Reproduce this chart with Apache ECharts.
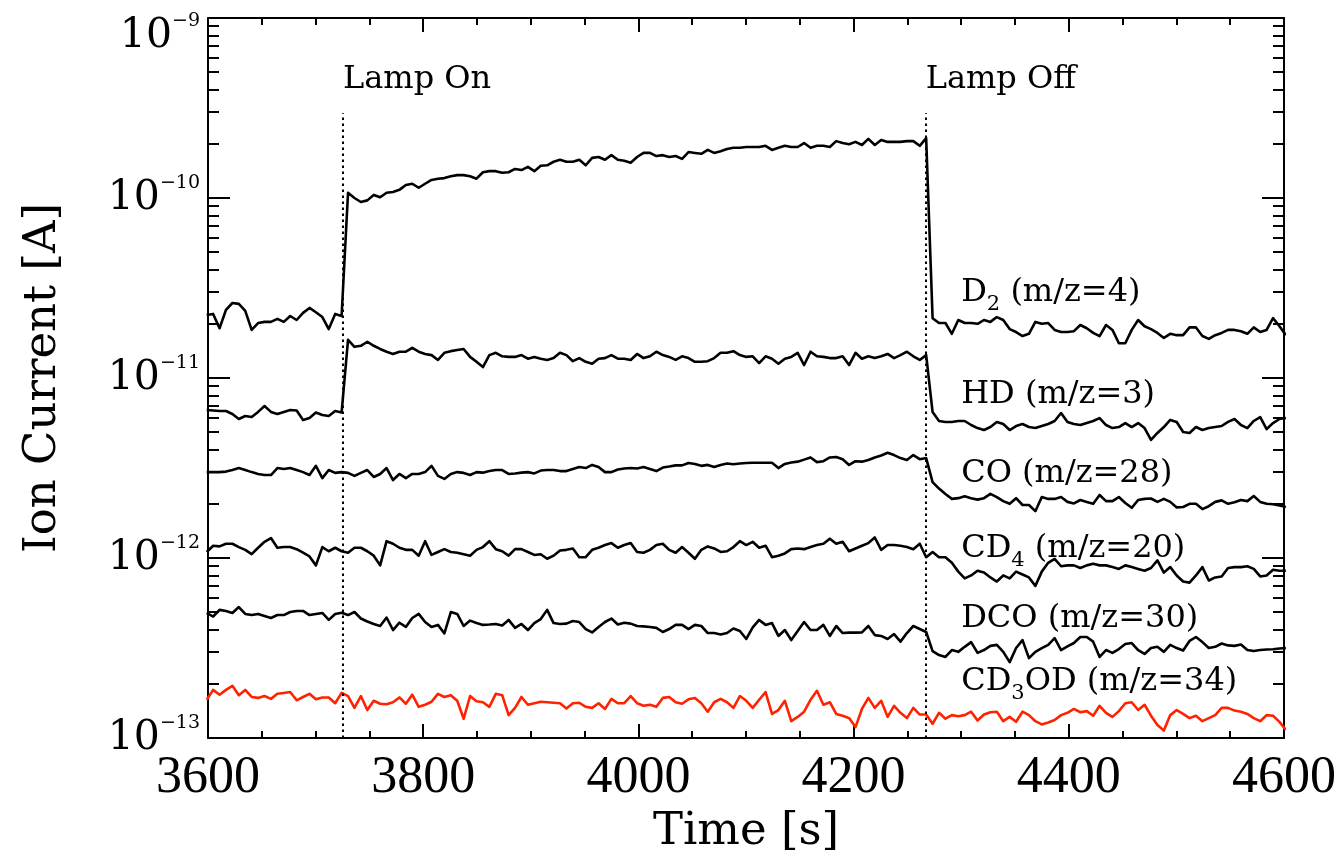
<!DOCTYPE html>
<html>
<head>
<meta charset="utf-8">
<title>Ion Current</title>
<script src="https://cdn.jsdelivr.net/npm/echarts@6/dist/echarts.min.js"></script>
<style>
    html, body {margin: 0; padding: 0; background: #fff;}
    #main {width: 1340px; height: 863px;}
</style>
</head>
<body>
<div id="main"></div>
<script>
    // sampling of the mass spectrometer (s)
    var t0 = 3598.8, dt = 5.97;

    // ion currents in pA (1e-12 A)
    var d2 = [22.4, 22.7, 18.9, 23.9, 26.1, 25.8, 23.6, 18.5, 20.2, 20.5, 20.5, 21.3, 20.5, 22.1, 21.0, 23.0, 24.5, 23.2, 21.8, 18.7, 22.7, 22.1,
        107, 100, 95, 97, 104, 101, 107, 108, 111, 118,
        120, 114, 120, 126, 128, 129, 132, 134, 134, 132,
        128, 139, 141, 141, 138, 139, 145, 143, 149, 141,
        151, 152, 159, 163, 159, 159, 163, 152, 167, 169,
        163, 173, 163, 161, 157, 169, 178, 178, 171, 173,
        169, 171, 165, 180, 178, 176, 185, 178, 182, 187,
        190, 190, 192, 192, 192, 195, 185, 190, 195, 192,
        192, 202, 190, 195, 195, 192, 207, 202, 199, 205,
        197, 213, 197, 210, 205, 205, 205, 207, 207, 195,
        215,
        21.5, 20.2, 20.2, 17.6, 21.0, 20.2, 20.2, 20.0, 21.0, 20.5,
        21.8, 21.0, 18.7, 18.0, 17.1, 17.6, 20.5, 20.0, 20.2, 18.5,
        18.0, 18.0, 18.2, 19.7, 18.9, 17.8, 17.1, 19.7, 18.5, 15.6,
        15.6, 18.5, 21.0, 19.4, 18.7, 17.8, 16.7, 17.6, 17.3, 17.3,
        19.1, 19.1, 17.1, 16.5, 17.3, 17.8, 18.5, 18.5, 18.2, 17.6,
        19.1, 18.0, 18.5, 21.5, 19.4, 17.3];

    var hd = [6.64, 6.60, 6.56, 6.56, 6.31, 5.92, 6.15, 6.07, 6.48, 6.99, 6.48, 6.31, 6.48, 6.64, 6.60, 5.84, 6.00, 6.43, 6.23, 6.15, 6.56, 6.43,
        16.3, 14.9, 15.1, 15.9, 15.1, 14.5, 14.0, 13.6, 14.0, 14.0,
        14.7, 14.0, 13.6, 13.4, 12.6, 13.8, 14.1, 14.3, 14.5, 13.1,
        12.3, 11.5, 13.4, 13.8, 13.2, 13.1, 13.1, 13.4, 12.8, 13.1,
        12.8, 12.6, 12.9, 13.8, 13.4, 12.4, 12.9, 12.3, 12.0, 12.8,
        12.9, 13.4, 12.8, 12.8, 12.6, 13.6, 12.9, 13.2, 14.0, 13.4,
        13.1, 12.6, 13.2, 12.9, 12.3, 12.3, 12.4, 12.9, 13.8, 13.8,
        14.1, 13.4, 13.1, 13.2, 12.1, 13.2, 12.8, 12.0, 12.8, 13.1,
        13.8, 11.8, 14.0, 13.2, 13.1, 12.9, 12.9, 13.2, 11.8, 13.8,
        12.8, 13.2, 12.9, 13.2, 13.6, 12.9, 13.4, 14.0, 13.2, 12.6,
        13.4,
        6.47, 5.77, 5.70, 5.70, 5.77, 5.77, 5.48, 5.27, 5.14, 5.34,
        5.70, 5.55, 5.14, 5.41, 5.55, 5.34, 5.27, 5.41, 5.55, 5.77,
        6.39, 5.70, 5.55, 5.48, 5.62, 5.77, 5.99, 5.48, 5.27, 5.34,
        5.62, 5.34, 5.62, 5.27, 4.53, 4.95, 5.34, 5.85, 5.70, 5.01,
        4.95, 5.34, 5.14, 5.27, 5.34, 5.41, 5.70, 5.92, 5.48, 5.27,
        5.77, 6.07, 5.20, 5.62, 5.92, 5.99];

    var co = [3.00, 3.00, 3.00, 3.02, 3.08, 3.16, 3.08, 3.00, 2.93, 2.89,
        2.89, 3.16, 3.12, 3.16, 3.08, 3.00, 2.89, 3.25, 2.78, 3.08,
        2.97, 3.00, 2.97, 2.86, 2.97, 3.08, 2.82, 2.93, 3.16, 2.71,
        2.93, 2.78, 2.93, 2.93, 3.00, 3.25, 2.86, 2.75, 2.93, 3.00,
        2.97, 2.89, 3.00, 2.98, 3.04, 3.08, 3.08, 2.93, 2.95, 2.98,
        3.00, 2.95, 3.06, 3.08, 3.08, 3.04, 3.04, 3.12, 3.20, 3.16,
        3.29, 3.20, 3.00, 3.00, 3.10, 3.14, 3.16, 3.14, 3.20, 3.12,
        3.04, 3.18, 3.22, 3.27, 3.27, 3.37, 3.33, 3.25, 3.29, 3.20,
        3.29, 3.35, 3.32, 3.35, 3.37, 3.38, 3.38, 3.38, 3.38, 3.16,
        3.33, 3.39, 3.43, 3.52, 3.62, 3.41, 3.45, 3.62, 3.64, 3.54,
        3.29, 3.45, 3.43, 3.50, 3.62, 3.71, 3.84, 3.73, 3.59, 3.50,
        3.73, 3.54, 3.59, 2.64, 2.43, 2.27, 2.13, 2.15, 2.20, 2.15,
        2.11, 2.15, 2.27, 2.18, 2.07, 2.00, 2.15, 1.97, 1.97, 1.82,
        2.18, 2.13, 2.13, 2.18, 2.05, 2.01, 2.10, 2.05, 2.00, 2.24,
        2.07, 2.07, 2.18, 2.02, 1.90, 2.10, 2.13, 2.14, 2.05, 2.13,
        2.05, 1.91, 1.92, 2.00, 2.00, 1.87, 1.94, 2.05, 2.09, 2.00,
        2.04, 2.10, 2.07, 2.21, 2.05, 2.00, 1.99, 1.96, 1.92];

    var cd4 = [1.08, 1.17, 1.16, 1.20, 1.20, 1.15, 1.11, 1.05, 1.14, 1.23,
        1.29, 1.14, 1.15, 1.15, 1.12, 1.07, 1.02, 0.91, 1.15, 1.09,
        1.14, 1.09, 1.07, 1.14, 1.14, 1.09, 1.03, 0.91, 1.24, 1.20,
        1.14, 1.11, 1.11, 1.03, 1.24, 1.04, 1.08, 1.12, 1.08, 1.07,
        1.05, 1.03, 1.11, 1.15, 1.24, 1.12, 1.09, 1.03, 1.12, 1.12,
        1.08, 1.04, 1.05, 0.99, 1.03, 1.10, 1.11, 1.13, 1.01, 1.01,
        1.11, 1.14, 1.18, 1.21, 1.14, 1.18, 1.21, 1.08, 1.07, 1.11,
        1.18, 1.20, 1.11, 1.07, 1.15, 1.07, 0.99, 1.11, 1.16, 1.13,
        1.08, 1.09, 1.15, 1.24, 1.18, 1.23, 1.14, 1.17, 1.01, 1.03,
        1.06, 1.12, 1.13, 1.12, 1.15, 1.18, 1.20, 1.28, 1.20, 1.23,
        1.09, 1.13, 1.17, 1.21, 1.30, 1.11, 1.18, 1.18, 1.17, 1.15,
        1.12, 1.20, 1.01, 1.08, 1.01, 1.01, 0.94, 0.84, 0.77, 0.80,
        0.85, 0.83, 0.78, 0.74, 0.80, 0.77, 0.84, 0.81, 0.78, 0.70,
        0.84, 0.94, 0.99, 0.90, 0.91, 0.91, 0.88, 0.91, 0.93, 0.91,
        0.91, 0.89, 0.87, 0.91, 0.89, 0.87, 0.85, 0.88, 0.97, 0.83,
        0.89, 0.80, 0.74, 0.73, 0.80, 0.89, 0.75, 0.78, 0.79, 0.88,
        0.89, 0.89, 0.90, 0.87, 0.79, 0.80, 0.86, 0.85, 0.85];

    var dco = [0.495, 0.473, 0.515, 0.508, 0.495, 0.534, 0.489, 0.482, 0.489, 0.476,
        0.464, 0.482, 0.482, 0.501, 0.508, 0.508, 0.482, 0.489, 0.495, 0.453,
        0.489, 0.496, 0.482, 0.501, 0.461, 0.444, 0.430, 0.419, 0.467, 0.398,
        0.437, 0.414, 0.464, 0.489, 0.441, 0.414, 0.425, 0.381, 0.501, 0.489,
        0.419, 0.449, 0.435, 0.425, 0.427, 0.430, 0.422, 0.453, 0.409, 0.430,
        0.398, 0.435, 0.458, 0.515, 0.435, 0.430, 0.432, 0.447, 0.441, 0.403,
        0.386, 0.414, 0.441, 0.461, 0.427, 0.437, 0.432, 0.419, 0.417, 0.414,
        0.409, 0.388, 0.403, 0.425, 0.425, 0.403, 0.425, 0.419, 0.383, 0.383,
        0.376, 0.383, 0.406, 0.393, 0.355, 0.412, 0.453, 0.425, 0.435, 0.369,
        0.398, 0.350, 0.393, 0.441, 0.398, 0.398, 0.425, 0.369, 0.419, 0.383,
        0.385, 0.385, 0.386, 0.419, 0.373, 0.369, 0.355, 0.378, 0.343, 0.383,
        0.419, 0.403, 0.388, 0.304, 0.289, 0.282, 0.308, 0.301, 0.321, 0.341,
        0.297, 0.308, 0.325, 0.329, 0.301, 0.264, 0.316, 0.350, 0.278, 0.301,
        0.316, 0.329, 0.359, 0.308, 0.323, 0.337, 0.364, 0.364, 0.343, 0.282,
        0.308, 0.297, 0.312, 0.333, 0.337, 0.308, 0.293, 0.316, 0.321, 0.301,
        0.329, 0.316, 0.306, 0.346, 0.364, 0.341, 0.316, 0.321, 0.335, 0.327,
        0.325, 0.331, 0.308, 0.304, 0.308, 0.310, 0.311, 0.314, 0.316];

    var cd3od = [0.163, 0.185, 0.174, 0.185, 0.195, 0.173, 0.185, 0.169, 0.167, 0.171,
        0.165, 0.176, 0.178, 0.180, 0.162, 0.169, 0.176, 0.164, 0.168, 0.168,
        0.156, 0.178, 0.171, 0.147, 0.171, 0.143, 0.161, 0.155, 0.154, 0.158,
        0.168, 0.155, 0.174, 0.149, 0.153, 0.159, 0.176, 0.169, 0.173, 0.161,
        0.128, 0.171, 0.160, 0.158, 0.149, 0.176, 0.173, 0.134, 0.147, 0.169,
        0.153, 0.156, 0.159, 0.158, 0.157, 0.156, 0.146, 0.156, 0.157, 0.149,
        0.147, 0.156, 0.145, 0.165, 0.156, 0.156, 0.171, 0.156, 0.151, 0.153,
        0.149, 0.167, 0.169, 0.158, 0.155, 0.164, 0.167, 0.156, 0.140, 0.158,
        0.165, 0.158, 0.147, 0.171, 0.161, 0.147, 0.163, 0.180, 0.136, 0.143,
        0.161, 0.124, 0.131, 0.140, 0.163, 0.183, 0.153, 0.158, 0.136, 0.133,
        0.129, 0.115, 0.145, 0.167, 0.147, 0.161, 0.131, 0.151, 0.138, 0.129,
        0.147, 0.135, 0.135, 0.120, 0.138, 0.128, 0.134, 0.132, 0.134, 0.140,
        0.125, 0.135, 0.139, 0.140, 0.124, 0.131, 0.123, 0.140, 0.134, 0.124,
        0.119, 0.122, 0.126, 0.134, 0.138, 0.145, 0.139, 0.141, 0.133, 0.151,
        0.138, 0.131, 0.141, 0.156, 0.158, 0.143, 0.153, 0.133, 0.118, 0.110,
        0.134, 0.143, 0.136, 0.129, 0.133, 0.124, 0.129, 0.134, 0.147, 0.147,
        0.142, 0.140, 0.136, 0.129, 0.124, 0.134, 0.133, 0.123, 0.111];

    // annotations
    var lampTimes = [3725.5, 4267];
    var lampNames = ['Lamp On', 'Lamp Off'];
    var lampTop = 296, lampLabelY = 453;
    var speciesNames = ['D{s|2} (m/z=4)', 'HD (m/z=3)', 'CO (m/z=28)', 'CD{s|4} (m/z=20)', 'DCO (m/z=30)', 'CD{s|3}OD (m/z=34)'];
    var speciesLabelT = 4300;
    var speciesLabelY = [29.6, 8.05, 2.93, 1.12, 0.458, 0.205];

    var minorY = [0.2, 0.3, 0.4, 0.5, 0.6, 0.7, 0.8, 0.9, 2, 3, 4, 5, 6, 7, 8, 9,
        20, 30, 40, 50, 60, 70, 80, 90, 200, 300, 400, 500, 600, 700, 800, 900];

    var times = d2.map(function (v, i) {
        return +(t0 + dt * i).toFixed(2);
    });

    function pairs(arr) {
        return arr.map(function (v, i) {
            return [times[i], v];
        });
    }

    var serif = 'DejaVu Serif';
    var black = '#000';
    var frame = {show: true, onZero: false, lineStyle: {color: black, width: 2}};

    function xAx(pos, showLabel) {
        return {
            type: 'value', position: pos, min: 3600, max: 4600, interval: 200,
            axisLine: frame,
            axisTick: {inside: true, length: 14, lineStyle: {color: black, width: 2}},
            minorTick: {show: true, splitNumber: 4, length: 7, lineStyle: {color: black, width: 2}},
            splitLine: {show: false}, minorSplitLine: {show: false},
            axisLabel: {
                show: showLabel, color: black, fontFamily: 'Liberation Serif', fontSize: 52, margin: 14,
                formatter: function (v) {
                    return String(v);
                }
            },
            name: showLabel ? 'Time [s]' : '', nameLocation: 'middle', nameGap: 72,
            nameTextStyle: {fontFamily: serif, fontSize: 45, color: black}
        };
    }

    function yAx(pos, major, showLabel) {
        var ax = {
            type: 'log', logBase: 10, position: pos, min: 0.1, max: 1000,
            axisLine: major ? frame : {show: false, onZero: false},
            axisTick: {inside: true, length: major ? 22 : 11, lineStyle: {color: black, width: 2}},
            splitLine: {show: false},
            axisLabel: {show: false}
        };
        if (!major) ax.axisTick.customValues = minorY;
        if (showLabel) {
            ax.axisLabel = {
                show: true, color: black, fontFamily: serif, fontSize: 41, lineHeight: 48, margin: 8,
                formatter: function (v) {
                    var e = Math.round(Math.log(v) / Math.LN10) - 12;
                    var s = '10{sup|\u2212' + (-e) + '}';
                    return v > 500 ? '{g| }\n' + s : s;
                },
                rich: {
                    sup: {fontFamily: serif, fontSize: 19, verticalAlign: 'top', color: black},
                    g: {fontSize: 10, lineHeight: 36}
                }
            };
            ax.name = 'Ion Current [A]';
            ax.nameLocation = 'middle';
            ax.nameGap = 142;
            ax.nameTextStyle = {fontFamily: serif, fontSize: 45, color: black};
        }
        return ax;
    }

    function line(name, arr, color) {
        return {
            name: name, type: 'line', xAxisIndex: 0, yAxisIndex: 0,
            data: pairs(arr), showSymbol: false, symbol: 'none',
            lineStyle: {color: color, width: 2.6, join: 'round'},
            animation: false, silent: true
        };
    }

    var labelStyle = {
        color: black, fontFamily: serif, fontSize: 32, lineHeight: 44,
        rich: {s: {fontFamily: serif, fontSize: 21, verticalAlign: 'bottom', color: black}}
    };

    var series = [
        line('D2', d2, black),
        line('HD', hd, black),
        line('CO', co, black),
        line('CD4', cd4, black),
        line('DCO', dco, black),
        line('CD3OD', cd3od, '#ff2200')
    ];

    series[0].markLine = {
        silent: true, animation: false, symbol: ['none', 'none'],
        label: {show: false},
        lineStyle: {color: black, width: 2, type: [2.5, 3.5]},
        data: lampTimes.map(function (t) {
            return [{coord: [t, 0.1]}, {coord: [t, lampTop]}];
        })
    };

    var marks = lampTimes.map(function (t, i) {
        return {coord: [t, lampLabelY], name: lampNames[i]};
    }).concat(speciesNames.map(function (n, i) {
        return {coord: [speciesLabelT, speciesLabelY[i]], name: n};
    }));

    series[0].markPoint = {
        silent: true, animation: false, symbol: 'circle', symbolSize: 0,
        label: Object.assign({show: true, position: 'right', distance: 0, formatter: '{b}'}, labelStyle),
        data: marks
    };

    var chart = echarts.init(document.getElementById('main'));
    chart.setOption({
        backgroundColor: '#fff',
        animation: false,
        grid: {left: 208, right: 56, top: 18, bottom: 125, outerBoundsMode: 'none', containLabel: false},
        xAxis: [xAx('bottom', true), xAx('top', false)],
        yAxis: [yAx('left', true, true), yAx('left', false, false), yAx('right', true, false), yAx('right', false, false)],
        series: series
    });
</script>
</body>
</html>
